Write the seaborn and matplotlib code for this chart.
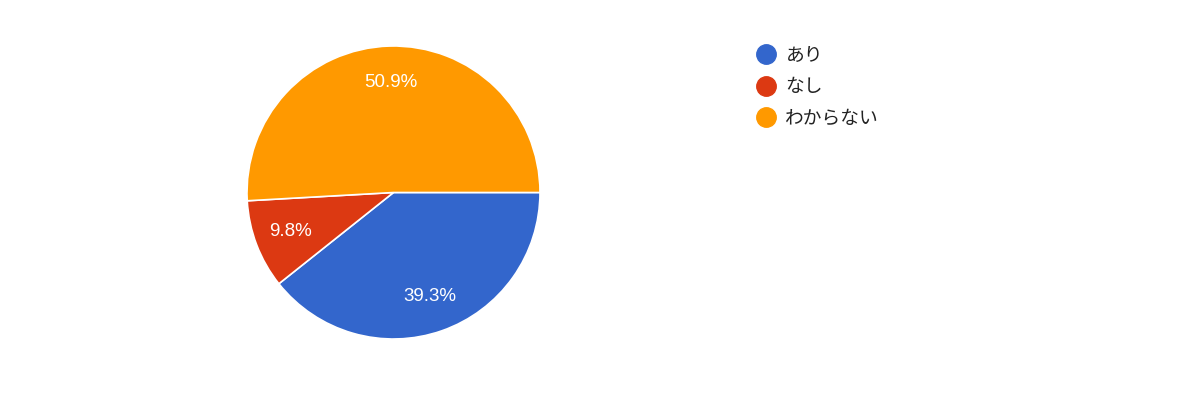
import matplotlib
matplotlib.use("Agg")
import matplotlib.pyplot as plt
import seaborn as sns
from matplotlib.lines import Line2D

categories = ["あり", "なし", "わからない"]
values = [39.3, 9.8, 50.9]
colors = ["#3366CC", "#DC3912", "#FF9900"]

sns.set_theme(style="white")
plt.rcParams['font.family'] = ['Noto Sans CJK JP', 'DejaVu Sans']

palette = sns.color_palette(colors)

fig = plt.figure(figsize=(12, 3.98), dpi=100)
fig.patch.set_facecolor("white")
cx, cy, r = 393.5, 192.5, 146.5
W, H = 1200, 398
ax = fig.add_axes([(cx - r) / W, (H - cy - r) / H, 2 * r / W, 2 * r / H])

wedges, texts, autotexts = ax.pie(
    values,
    colors=palette,
    startangle=0,
    counterclock=False,
    autopct=lambda p: f"{p:.1f}%",
    pctdistance=0.75,
    wedgeprops=dict(edgecolor="white", linewidth=1.2),
    textprops=dict(color="white", fontsize=13.5, family=["Liberation Sans", "DejaVu Sans"]),
)
ax.set_aspect("equal")
ax.set_xlim(-1, 1)
ax.set_ylim(-1, 1)
ax.axis("off")

handles = [Line2D([0], [0], marker="o", linestyle="none", markersize=14,
                  markerfacecolor=c, markeredgecolor=c) for c in colors]
leg = fig.legend(handles, categories, loc="upper left",
                 bbox_to_anchor=(747 / W, 1 - 37 / H), frameon=False,
                 fontsize=13.5, labelspacing=0.57, handletextpad=0.45,
                 handlelength=1.2, borderaxespad=0)
for t in leg.get_texts():
    t.set_color("#222222")

fig.savefig("out.png", dpi=100, facecolor="white")
